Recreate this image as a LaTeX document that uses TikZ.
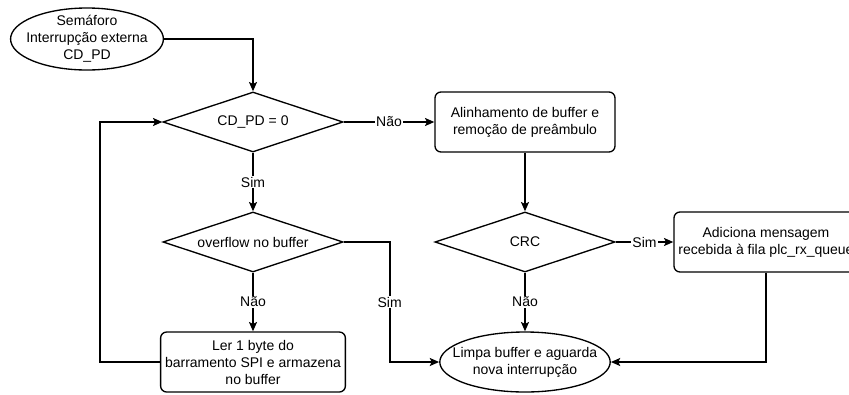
\documentclass[tikz,border=0pt]{standalone}
\usepackage{fontspec}
\setmainfont{Liberation Sans}
\usetikzlibrary{shapes,arrows,arrows.meta,positioning}

\begin{document}
\begin{tikzpicture}[node distance=90pt, >={Stealth[length=7pt, width=6pt, inset=1.5pt]},
    font=\fontsize{10.5}{12.75}\selectfont,
    decision/.style={diamond, draw, line width=1pt, aspect=3, minimum width=135pt, minimum height=45pt, inner sep=0pt, align=center},
    process/.style={rectangle, draw, rounded corners=4.5pt, line width=1pt, minimum width=135pt, minimum height=45pt, align=center},
    terminal/.style={ellipse, draw, line width=1pt, inner sep=0pt, align=center},
    flow/.style={->, line width=1.5pt},
    lbl/.style={fill=white, inner sep=1pt}]
% frame of the picture
\useasboundingbox (-189.75pt,91.5pt) rectangle (447pt,-204pt);

% Nodes
\node[decision] (cdpd) {CD\_PD = 0};
\node[terminal, inner xsep=-5pt, inner ysep=-2pt, minimum width=113pt, minimum height=46.5pt] (sem) at (-124.5pt,62.25pt) {Semáforo\\Interrupção externa\\CD\_PD};
\node[process, right of=cdpd, node distance=204pt] (align) {Alinhamento de buffer e\\remoção de preâmbulo};
\node[decision, below of=cdpd] (ovf) {overflow no buffer};
\node[process, below of=ovf] (ler) {Ler 1 byte do\\barramento SPI e armazena\\no buffer};
\node[decision, below of=align] (crc) {CRC};
\node[process, right of=crc, node distance=180.75pt] (add) {Adiciona mensagem\\recebida à fila plc\_rx\_queue};
\node[terminal, below of=crc, inner xsep=-9pt, inner ysep=-3pt, minimum width=126pt, minimum height=45pt] (limpa) {Limpa buffer e aguarda\\nova interrupção};

% Arrows
\draw[flow] (sem.east) -| (cdpd.north);
\draw[flow] (cdpd.east) -- node[lbl] {Não} (align.west);
\draw[flow] (cdpd.south) -- node[lbl] {Sim} (ovf.north);
\draw[flow] (ovf.south) -- node[lbl] {Não} (ler.north);
\draw[flow] (ovf.east) -- ++(34.5pt,0) |- node[lbl, pos=0.25] {Sim} (limpa.west);
\draw[flow] (ler.west) -- ++(-45pt,0) |- (cdpd.west);
\draw[flow] (align.south) -- (crc.north);
\draw[flow] (crc.east) -- node[lbl] {Sim} (add.west);
\draw[flow] (crc.south) -- node[lbl] {Não} (limpa.north);
\draw[flow] (add.south) |- (limpa.east);
\end{tikzpicture}
\end{document}
